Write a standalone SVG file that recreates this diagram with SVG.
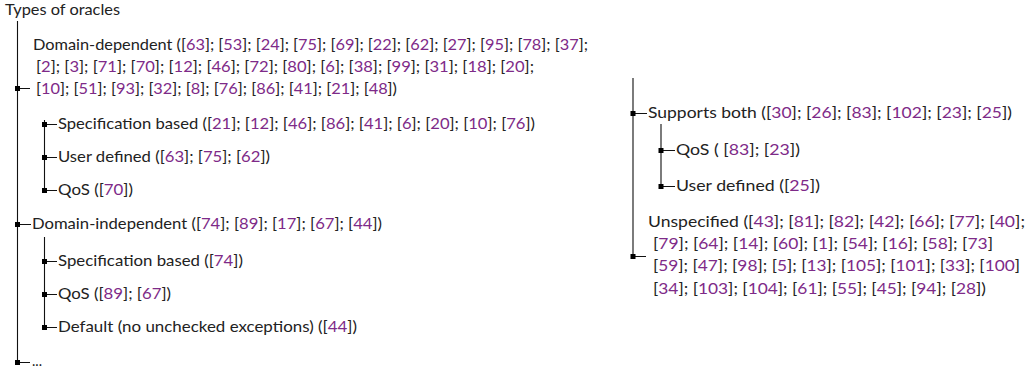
<svg xmlns="http://www.w3.org/2000/svg" width="1032" height="368" viewBox="0 0 1032 368">
  <style>
    text { font-family: "Linux Biolinum O", "Linux Biolinum", Lato, "Open Sans", sans-serif; font-size: 16px; fill: #222; }
    .c { fill: #7e2a88; }
    .edge { stroke: #111; stroke-width: 1.1; fill: none; }
    .dot { fill: #000; }
  </style>
  <defs>
    <rect id="sq" x="-2.5" y="-2.5" width="5" height="5" class="dot"/>
  </defs>
  <rect width="1032" height="368" fill="#fff"/>

  <!-- tree connectors -->
  <g id="connectors">
    <path class="edge" d="M17.5 21V362"/>
    <path class="edge" d="M17.5 88.5H30M17.5 224.5H31M17.5 362.5H30"/>
    <path class="edge" d="M44.5 120V190.5M44.5 124.5H57M44.5 157.5H57M44.5 190.5H57"/>
    <path class="edge" d="M44.5 237V327.5M44.5 261.5H57M44.5 294.5H57M44.5 327.5H57"/>
    <path class="edge" d="M633 78V257M633 113.5H647M633 256.5H646"/>
    <path class="edge" d="M661 124V186.5M661 150.5H675M661 186.5H675"/>
    <use href="#sq" x="17.5" y="88.5"/>
    <use href="#sq" x="17.5" y="224.5"/>
    <use href="#sq" x="17.5" y="362.5"/>
    <use href="#sq" x="44.5" y="124.5"/>
    <use href="#sq" x="44.5" y="157.5"/>
    <use href="#sq" x="44.5" y="190.5"/>
    <use href="#sq" x="44.5" y="261.5"/>
    <use href="#sq" x="44.5" y="294.5"/>
    <use href="#sq" x="44.5" y="327.5"/>
    <use href="#sq" x="633" y="113.5"/>
    <use href="#sq" x="633" y="256.5"/>
    <use href="#sq" x="661" y="150.5"/>
    <use href="#sq" x="661" y="186.5"/>
  </g>

  <g id="root">
    <text x="5" y="15" textLength="115" lengthAdjust="spacingAndGlyphs">Types of oracles</text>
  </g>

  <g id="domain-dependent">
    <text x="33" y="50" textLength="555" lengthAdjust="spacingAndGlyphs">Domain-dependent ([<tspan class="c">63</tspan>]; [<tspan class="c">53</tspan>]; [<tspan class="c">24</tspan>]; [<tspan class="c">75</tspan>]; [<tspan class="c">69</tspan>]; [<tspan class="c">22</tspan>]; [<tspan class="c">62</tspan>]; [<tspan class="c">27</tspan>]; [<tspan class="c">95</tspan>]; [<tspan class="c">78</tspan>]; [<tspan class="c">37</tspan>];</text>
    <text x="36" y="72" textLength="498" lengthAdjust="spacingAndGlyphs">[<tspan class="c">2</tspan>]; [<tspan class="c">3</tspan>]; [<tspan class="c">71</tspan>]; [<tspan class="c">70</tspan>]; [<tspan class="c">12</tspan>]; [<tspan class="c">46</tspan>]; [<tspan class="c">72</tspan>]; [<tspan class="c">80</tspan>]; [<tspan class="c">6</tspan>]; [<tspan class="c">38</tspan>]; [<tspan class="c">99</tspan>]; [<tspan class="c">31</tspan>]; [<tspan class="c">18</tspan>]; [<tspan class="c">20</tspan>];</text>
    <text x="36" y="94" textLength="361" lengthAdjust="spacingAndGlyphs">[<tspan class="c">10</tspan>]; [<tspan class="c">51</tspan>]; [<tspan class="c">93</tspan>]; [<tspan class="c">32</tspan>]; [<tspan class="c">8</tspan>]; [<tspan class="c">76</tspan>]; [<tspan class="c">86</tspan>]; [<tspan class="c">41</tspan>]; [<tspan class="c">21</tspan>]; [<tspan class="c">48</tspan>])</text>
  </g>
  <g id="dd-specification">
    <text x="58" y="129" textLength="477" lengthAdjust="spacingAndGlyphs">Specification based ([<tspan class="c">21</tspan>]; [<tspan class="c">12</tspan>]; [<tspan class="c">46</tspan>]; [<tspan class="c">86</tspan>]; [<tspan class="c">41</tspan>]; [<tspan class="c">6</tspan>]; [<tspan class="c">20</tspan>]; [<tspan class="c">10</tspan>]; [<tspan class="c">76</tspan>])</text>
  </g>
  <g id="dd-user-defined">
    <text x="58" y="162" textLength="212" lengthAdjust="spacingAndGlyphs">User defined ([<tspan class="c">63</tspan>]; [<tspan class="c">75</tspan>]; [<tspan class="c">62</tspan>])</text>
  </g>
  <g id="dd-qos">
    <text x="58" y="195" textLength="75" lengthAdjust="spacingAndGlyphs">QoS ([<tspan class="c">70</tspan>])</text>
  </g>

  <g id="domain-independent">
    <text x="32" y="229" textLength="350" lengthAdjust="spacingAndGlyphs">Domain-independent ([<tspan class="c">74</tspan>]; [<tspan class="c">89</tspan>]; [<tspan class="c">17</tspan>]; [<tspan class="c">67</tspan>]; [<tspan class="c">44</tspan>])</text>
  </g>
  <g id="di-specification">
    <text x="58" y="266" textLength="185" lengthAdjust="spacingAndGlyphs">Specification based ([<tspan class="c">74</tspan>])</text>
  </g>
  <g id="di-qos">
    <text x="58" y="299" textLength="113" lengthAdjust="spacingAndGlyphs">QoS ([<tspan class="c">89</tspan>]; [<tspan class="c">67</tspan>])</text>
  </g>
  <g id="di-default">
    <text x="58" y="332" textLength="299" lengthAdjust="spacingAndGlyphs">Default (no unchecked exceptions) ([<tspan class="c">44</tspan>])</text>
  </g>

  <g id="more">
    <text x="32" y="366" textLength="10" lengthAdjust="spacingAndGlyphs">...</text>
  </g>

  <g id="supports-both">
    <text x="648" y="118" textLength="364" lengthAdjust="spacingAndGlyphs">Supports both ([<tspan class="c">30</tspan>]; [<tspan class="c">26</tspan>]; [<tspan class="c">83</tspan>]; [<tspan class="c">102</tspan>]; [<tspan class="c">23</tspan>]; [<tspan class="c">25</tspan>])</text>
  </g>
  <g id="sb-qos">
    <text x="676" y="155" textLength="124" lengthAdjust="spacingAndGlyphs">QoS ( [<tspan class="c">83</tspan>]; [<tspan class="c">23</tspan>])</text>
  </g>
  <g id="sb-user-defined">
    <text x="676" y="191" textLength="144" lengthAdjust="spacingAndGlyphs">User defined ([<tspan class="c">25</tspan>])</text>
  </g>

  <g id="unspecified">
    <text x="648" y="227" textLength="377" lengthAdjust="spacingAndGlyphs">Unspecified ([<tspan class="c">43</tspan>]; [<tspan class="c">81</tspan>]; [<tspan class="c">82</tspan>]; [<tspan class="c">42</tspan>]; [<tspan class="c">66</tspan>]; [<tspan class="c">77</tspan>]; [<tspan class="c">40</tspan>];</text>
    <text x="653" y="249" textLength="340" lengthAdjust="spacingAndGlyphs">[<tspan class="c">79</tspan>]; [<tspan class="c">64</tspan>]; [<tspan class="c">14</tspan>]; [<tspan class="c">60</tspan>]; [<tspan class="c">1</tspan>]; [<tspan class="c">54</tspan>]; [<tspan class="c">16</tspan>]; [<tspan class="c">58</tspan>]; [<tspan class="c">73</tspan>]</text>
    <text x="653" y="271" textLength="367" lengthAdjust="spacingAndGlyphs">[<tspan class="c">59</tspan>]; [<tspan class="c">47</tspan>]; [<tspan class="c">98</tspan>]; [<tspan class="c">5</tspan>]; [<tspan class="c">13</tspan>]; [<tspan class="c">105</tspan>]; [<tspan class="c">101</tspan>]; [<tspan class="c">33</tspan>]; [<tspan class="c">100</tspan>]</text>
    <text x="653" y="294" textLength="333" lengthAdjust="spacingAndGlyphs">[<tspan class="c">34</tspan>]; [<tspan class="c">103</tspan>]; [<tspan class="c">104</tspan>]; [<tspan class="c">61</tspan>]; [<tspan class="c">55</tspan>]; [<tspan class="c">45</tspan>]; [<tspan class="c">94</tspan>]; [<tspan class="c">28</tspan>])</text>
  </g>
</svg>
